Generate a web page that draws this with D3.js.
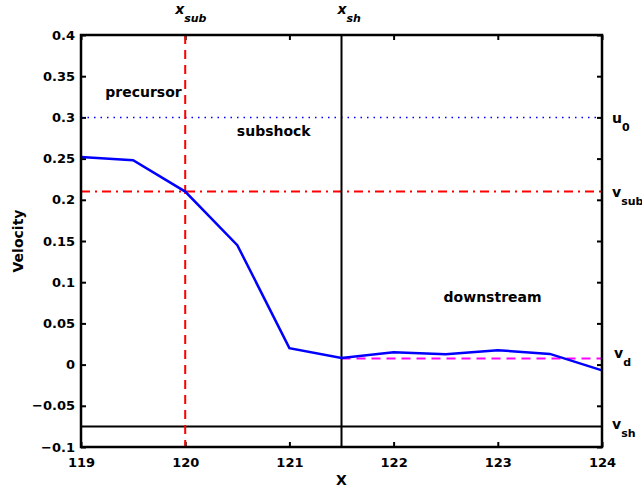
<!DOCTYPE html>
<meta charset="utf-8">
<style>
    body { margin: 0; background: #fff; }
    text { font-family: "DejaVu Sans", sans-serif; font-weight: bold; fill: #000; }
    .axis path { display: none; }
    .axis line { stroke: #000; stroke-width: 2; }
    .axis text { font-size: 13px; }
</style>
<svg width="642" height="490"></svg>
<script src="https://cdn.jsdelivr.net/npm/d3@7"></script>
<script>

    // velocity profile along X
    var xs = [119, 119.5, 120, 120.5, 121, 121.5, 122, 122.5, 123, 123.5, 124];
    var velocity = [0.252, 0.248, 0.21, 0.145, 0.02, 0.008, 0.015, 0.0125, 0.0175, 0.013, -0.007];

    // reference levels
    var xSub = 120, xSh = 121.5;
    var u0 = 0.3, vSub = 0.21, vD = 0.0075, vSh = -0.075;

    var xTicks = [119, 120, 121, 122, 123, 124];
    var yTicks = [-0.1, -0.05, 0, 0.05, 0.1, 0.15, 0.2, 0.25, 0.3, 0.35, 0.4];

    var svg = d3.select("svg"),
        margin = { top: 35, right: 40, bottom: 43, left: 81 },
        width = +svg.attr("width") - margin.left - margin.right,
        height = +svg.attr("height") - margin.top - margin.bottom,
        g = svg.append("g").attr("transform", "translate(" + margin.left + "," + margin.top + ")");

    var x = d3.scaleLinear().domain([119, 124]).range([0, width]);
    var y = d3.scaleLinear().domain([-0.1, 0.4]).range([height, 0]);

    // ticks point inward on all four sides
    g.append("g").attr("class", "axis")
        .attr("transform", "translate(0," + height + ")")
        .call(d3.axisBottom(x).tickValues(xTicks).tickSize(-5).tickPadding(11).tickFormat(d3.format("d")));
    g.append("g").attr("class", "axis")
        .call(d3.axisTop(x).tickValues(xTicks).tickSize(-5).tickFormat(""));
    g.append("g").attr("class", "axis")
        .call(d3.axisLeft(y).tickValues(yTicks).tickSize(-5).tickPadding(6).tickFormat(d3.format("~g")));
    g.append("g").attr("class", "axis")
        .attr("transform", "translate(" + width + ",0)")
        .call(d3.axisRight(y).tickValues(yTicks).tickSize(-5).tickFormat(""));

    // horizontal reference lines
    function hline(v, color, dash, w) {
        g.append("line")
            .attr("x1", 0).attr("x2", width)
            .attr("y1", y(v)).attr("y2", y(v))
            .attr("stroke", color).attr("stroke-width", w)
            .attr("stroke-dasharray", dash);
    }
    hline(u0, "#0000ff", "1.5,5", 1.5);
    hline(vSub, "#ff0000", "9,5,2,5", 2);
    hline(vSh, "#000", null, 2);

    g.append("line")
        .attr("x1", x(xSh)).attr("x2", width)
        .attr("y1", y(vD)).attr("y2", y(vD))
        .attr("stroke", "#ff00ff").attr("stroke-width", 2)
        .attr("stroke-dasharray", "9,6");

    // vertical markers
    g.append("line")
        .attr("x1", x(xSub)).attr("x2", x(xSub))
        .attr("y1", 0).attr("y2", height)
        .attr("stroke", "#ff0000").attr("stroke-width", 2)
        .attr("stroke-dasharray", "9,6");
    g.append("line")
        .attr("x1", x(xSh)).attr("x2", x(xSh))
        .attr("y1", 0).attr("y2", height)
        .attr("stroke", "#000").attr("stroke-width", 2);

    var line = d3.line()
        .x(function (d, i) { return x(xs[i]); })
        .y(function (d) { return y(d); });

    g.append("path")
        .datum(velocity)
        .attr("fill", "none")
        .attr("stroke", "#0000ff")
        .attr("stroke-width", 2.5)
        .attr("d", line);

    // frame
    g.append("rect")
        .attr("width", width).attr("height", height)
        .attr("fill", "none").attr("stroke", "#000").attr("stroke-width", 2.5);

    // region labels
    var regions = [
        { text: "precursor", x: 119.6, y: 0.325 },
        { text: "subshock", x: 120.85, y: 0.277 },
        { text: "downstream", x: 122.95, y: 0.076 }
    ];
    g.selectAll(".region").data(regions).enter().append("text")
        .attr("class", "region")
        .attr("x", function (d) { return x(d.x); })
        .attr("y", function (d) { return y(d.y); })
        .attr("text-anchor", "middle")
        .attr("font-size", 14)
        .text(function (d) { return d.text; });

    // symbol with subscript
    function symbol(px, py, main, sub, italic) {
        var t = svg.append("text").attr("x", px).attr("y", py).attr("font-size", 14);
        if (italic) t.attr("font-style", "italic");
        t.append("tspan").text(main);
        t.append("tspan").attr("dy", 8).attr("font-size", 11).text(sub);
    }
    symbol(x(xSub) + margin.left - 10, 14, "x", "sub", true);
    symbol(x(xSh) + margin.left - 4, 14, "x", "sh", true);
    symbol(612, y(u0) + margin.top + 6, "u", "0", false);
    symbol(612, y(vSub) + margin.top + 5, "v", "sub", false);
    symbol(614, y(vD) + margin.top, "v", "d", false);
    symbol(612, y(vSh) + margin.top + 3, "v", "sh", false);

    // axis titles
    svg.append("text")
        .attr("x", margin.left + width / 2).attr("y", 485)
        .attr("text-anchor", "middle").attr("font-size", 14)
        .text("X");
    svg.append("text")
        .attr("transform", "translate(23," + (margin.top + height / 2) + ") rotate(-90)")
        .attr("text-anchor", "middle").attr("font-size", 14)
        .text("Velocity");

</script>
